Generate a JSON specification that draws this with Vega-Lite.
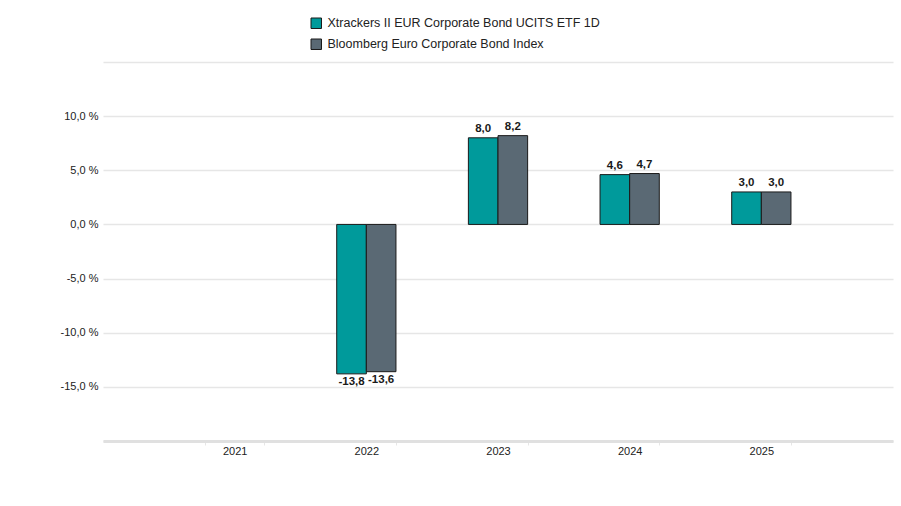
{
  "$schema": "https://vega.github.io/schema/vega-lite/v6.json",
  "width": 790,
  "height": 379,
  "autosize": {"type": "none"},
  "padding": {"left": 103, "top": 62, "right": 8, "bottom": 65},
  "background": "white",
  "config": {
    "locale": {"number": {"decimal": ",", "thousands": ".", "grouping": [3], "currency": ["", " €"], "minus": "-"}},
    "font": "Liberation Sans",
    "view": {"stroke": null}
  },
  "data": {
    "values": [
      {"year": "2022", "series": "Xtrackers II EUR Corporate Bond UCITS ETF 1D", "value": -13.8},
      {"year": "2022", "series": "Bloomberg Euro Corporate Bond Index", "value": -13.6},
      {"year": "2023", "series": "Xtrackers II EUR Corporate Bond UCITS ETF 1D", "value": 8.0},
      {"year": "2023", "series": "Bloomberg Euro Corporate Bond Index", "value": 8.2},
      {"year": "2024", "series": "Xtrackers II EUR Corporate Bond UCITS ETF 1D", "value": 4.6},
      {"year": "2024", "series": "Bloomberg Euro Corporate Bond Index", "value": 4.7},
      {"year": "2025", "series": "Xtrackers II EUR Corporate Bond UCITS ETF 1D", "value": 3.0},
      {"year": "2025", "series": "Bloomberg Euro Corporate Bond Index", "value": 3.0}
    ]
  },
  "encoding": {
    "x": {
      "field": "year", "type": "nominal",
      "scale": {"domain": ["2021", "2022", "2023", "2024", "2025"], "paddingInner": 0.55, "paddingOuter": 0.775},
      "axis": {"title": null, "labelAngle": 0, "labelFontSize": 11, "labelColor": "#222", "domainColor": "#e0e0e0", "domainWidth": 3, "tickColor": "#e6e6e6", "tickBand": "extent", "tickSize": 4, "labelPadding": 0}
    },
    "xOffset": {"field": "series", "type": "nominal", "sort": ["Xtrackers II EUR Corporate Bond UCITS ETF 1D", "Bloomberg Euro Corporate Bond Index"], "scale": {"paddingInner": 0}},
    "y": {
      "field": "value", "type": "quantitative",
      "scale": {"domain": [-20, 15], "nice": false, "zero": true},
      "axis": {"title": null, "values": [-20, -15, -10, -5, 0, 5, 10, 15], "labelExpr": "datum.value == 15 || datum.value == -20 ? '' : format(datum.value, '.1f') + ' %'", "domain": false, "ticks": false, "labelPadding": 5, "labelFontSize": 11, "labelColor": "#222", "gridColor": "#e6e6e6", "gridWidth": 1.5}
    }
  },
  "layer": [
    {
      "mark": {"type": "bar", "stroke": "#1a1a1a", "strokeWidth": 1},
      "encoding": {
        "color": {
          "field": "series", "type": "nominal",
          "sort": ["Xtrackers II EUR Corporate Bond UCITS ETF 1D", "Bloomberg Euro Corporate Bond Index"],
          "scale": {"domain": ["Xtrackers II EUR Corporate Bond UCITS ETF 1D", "Bloomberg Euro Corporate Bond Index"], "range": ["#009a9b", "#5a6974"]},
          "legend": {"title": null, "orient": "none", "legendX": 207, "legendY": -45, "direction": "vertical", "symbolType": "square", "symbolSize": 110, "symbolStrokeColor": "#1a1a1a", "symbolStrokeWidth": 1, "labelFontSize": 12.5, "labelColor": "#222", "rowPadding": 6, "labelOffset": 5, "labelLimit": 400}
        }
      }
    },
    {
      "transform": [{"filter": "datum.value >= 0"}],
      "mark": {"type": "text", "baseline": "bottom", "dy": -4, "fontSize": 11.5, "fontWeight": "bold", "color": "#1a1a1a"},
      "encoding": {"text": {"field": "value", "type": "quantitative", "format": ".1f"}}
    },
    {
      "transform": [{"filter": "datum.value < 0"}],
      "mark": {"type": "text", "baseline": "top", "dy": 2, "fontSize": 11.5, "fontWeight": "bold", "color": "#1a1a1a"},
      "encoding": {"text": {"field": "value", "type": "quantitative", "format": ".1f"}}
    }
  ]
}
